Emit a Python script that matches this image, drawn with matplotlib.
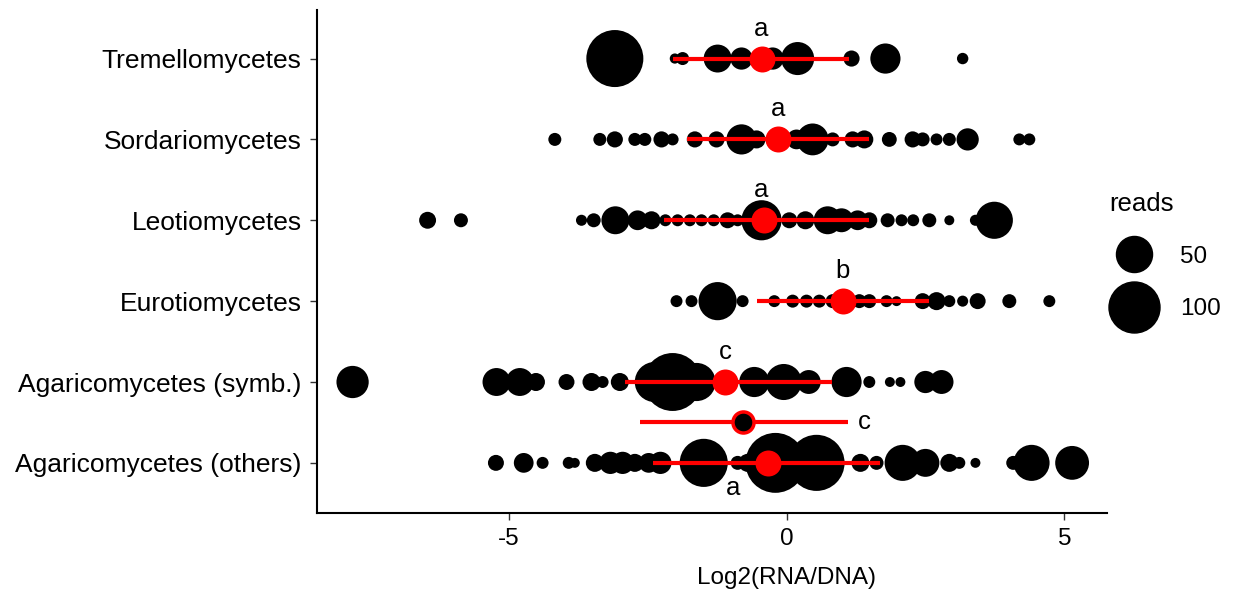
import matplotlib.pyplot as plt
import matplotlib.lines as mlines

plt.rcParams['font.family'] = ['Liberation Sans', 'DejaVu Sans']

classes = ['Agaricomycetes (others)', 'Agaricomycetes (symb.)', 'Eurotiomycetes',
           'Leotiomycetes', 'Sordariomycetes', 'Tremellomycetes']

# log2 ratio and read counts per taxon, one list per class
trem_x = [-3.09, -2.01, -1.87, -1.24, -0.81, -0.25, 0.20, 1.17, 1.78, 3.17]
trem_r = [125, 4, 6.5, 30, 19, 19, 42, 10, 35, 5]

sord_x = [-4.17, -3.36, -3.09, -2.73, -2.55, -2.25, -2.05, -1.65, -1.26, -0.81, -0.54,
          0.18, 0.47, 0.83, 1.19, 1.40, 1.85, 2.27, 2.45, 2.70, 2.93, 3.26, 4.19, 4.37]
sord_r = [6.5, 6.5, 10, 6.5, 6.5, 10, 5.5, 10, 10, 35, 12.5,
          15, 39, 7.5, 10, 12.5, 8.5, 10, 7.5, 5.5, 6.5, 19, 5.5, 5.5]

leot_x = [-6.46, -5.86, -3.69, -3.47, -3.08, -2.68, -2.43, -2.18, -1.96, -1.74, -1.53,
          -1.31, -1.06, -0.88, -0.45, 0.05, 0.34, 0.74, 0.99, 1.28, 1.49, 1.82, 2.07,
          2.28, 2.57, 2.93, 3.40, 3.74]
leot_r = [11, 7.5, 4.7, 7.5, 30, 15, 12.5, 5.5, 5.5, 5.5, 5.5,
          5.5, 9.8, 5.5, 62, 9.8, 12.5, 30, 22, 15, 9.8, 7.5, 5.5,
          5.5, 7.5, 3.8, 4.7, 53]

euro_x = [-1.98, -1.71, -1.24, -0.79, -0.22, 0.11, 0.36, 0.59, 0.83, 1.31, 1.49, 1.80,
          1.98, 2.45, 2.70, 2.93, 3.17, 3.44, 4.01, 4.73]
euro_r = [5.5, 5.5, 56, 5.5, 5.5, 6.5, 6.5, 6.5, 7.5, 7.5, 7.5, 5.5,
          3.8, 9.8, 12.5, 5.5, 4.7, 9.8, 7.5, 5.5]

symb_x = [-7.81, -5.22, -4.80, -4.51, -3.96, -3.51, -3.31, -3.00, -2.37, -2.05, -1.62,
          -1.51, -0.58, -0.05, 0.40, 1.08, 1.49, 1.86, 2.05, 2.50, 2.79]
symb_r = [40, 30, 30, 12.5, 9.8, 12.5, 5.5, 12.5, 62, 129, 56,
          15, 35, 50, 22, 35, 5.5, 3.8, 3.8, 19, 22]

oth_x = [-5.23, -4.73, -4.39, -3.92, -3.81, -3.45, -3.17, -2.95, -2.73, -2.48, -2.27,
         -1.49, -0.88, -0.70, -0.20, 0.54, 1.33, 1.62, 2.09, 2.50, 2.93, 3.11, 3.40,
         4.08, 4.41, 5.14]
oth_r = [9.8, 15, 5.5, 5.5, 3.8, 12.5, 19, 19, 12.5, 15, 19,
         89, 7.5, 12.5, 138, 121, 12.5, 7.5, 50, 30, 12.5, 5.5, 3.8,
         7.5, 50, 44]

# class means, error bar ends and letters (same order as classes)
means = [-0.34, -1.10, 1.01, -0.40, -0.16, -0.45]
err_lo = [-2.41, -2.90, -0.54, -2.21, -1.80, -2.05]
err_hi = [1.69, 0.81, 2.57, 1.49, 1.49, 1.12]
letters = ['a', 'c', 'b', 'a', 'a', 'a']
letter_x = [-0.97, -1.10, 1.01, -0.45, -0.16, -0.45]

# whole Agaricomycetes, drawn between the two groups
agar_mean = -0.79
agar_lo = -2.63
agar_hi = 1.10
agar_letter = 'c'

xs = [oth_x, symb_x, euro_x, leot_x, sord_x, trem_x]
rs = [oth_r, symb_r, euro_r, leot_r, sord_r, trem_r]


def size(r):
    # area of marker in points^2, diameter ~ 5.1 px * sqrt(reads)
    return (5.1 * 0.72) ** 2 * r


fig = plt.figure(figsize=(12.35, 5.9), dpi=100)
ax = fig.add_axes([0.2567, 0.1305, 0.6393, 0.8525])

for i in range(len(classes)):
    y = i + 1
    ax.scatter(xs[i], [y] * len(xs[i]), s=[size(r) for r in rs[i]],
               color='black', linewidths=0, zorder=2)
    ax.plot([err_lo[i], err_hi[i]], [y, y], color='red', lw=3, zorder=3,
            solid_capstyle='butt')
    ax.scatter([means[i]], [y], s=350, color='red', linewidths=0, zorder=4)
    if i == 0:
        ax.text(letter_x[i], y - 0.31, letters[i], ha='center', va='center',
                fontsize=18.5, zorder=5)
    else:
        ax.text(letter_x[i], y + 0.37, letters[i], ha='center', va='center',
                fontsize=18.5, zorder=5)

ax.plot([agar_lo, agar_hi], [1.5, 1.5], color='red', lw=3, zorder=3, solid_capstyle='butt')
ax.scatter([agar_mean], [1.5], s=230, color='black', edgecolors='red', linewidths=2.5, zorder=4)
ax.text(agar_hi + 0.3, 1.5, agar_letter, ha='center', va='center', fontsize=18.5)

ax.set_xlim(-8.45, 5.76)
ax.set_ylim(0.38, 6.6)
ax.set_yticks(range(1, 7))
ax.set_yticklabels(classes, fontsize=19)
ax.set_xticks([-5, 0, 5])
ax.set_xticklabels(['-5', '0', '5'], fontsize=17.5)
ax.set_xlabel('Log2(RNA/DNA)', fontsize=17.5)
ax.xaxis.set_label_coords(0.595, -0.107)
ax.tick_params(length=5, width=1, color='#333333', pad=6)
for side in ['top', 'right']:
    ax.spines[side].set_visible(False)
for side in ['left', 'bottom']:
    ax.spines[side].set_linewidth(1.5)

handles = [mlines.Line2D([], [], ls='', marker='o', color='black', markersize=5.1 * 0.72 * 50 ** 0.5),
           mlines.Line2D([], [], ls='', marker='o', color='black', markersize=5.1 * 0.72 * 100 ** 0.5)]
leg = ax.legend(handles, ['50', '100'], title='reads', frameon=False, fontsize=17.5,
                title_fontsize=18.5, loc='upper left', bbox_to_anchor=(1.004, 0.639),
                labelspacing=1.25, handletextpad=0.9, borderaxespad=0, borderpad=0)
leg._legend_box.align = 'left'

plt.savefig('out.png', dpi=100)
